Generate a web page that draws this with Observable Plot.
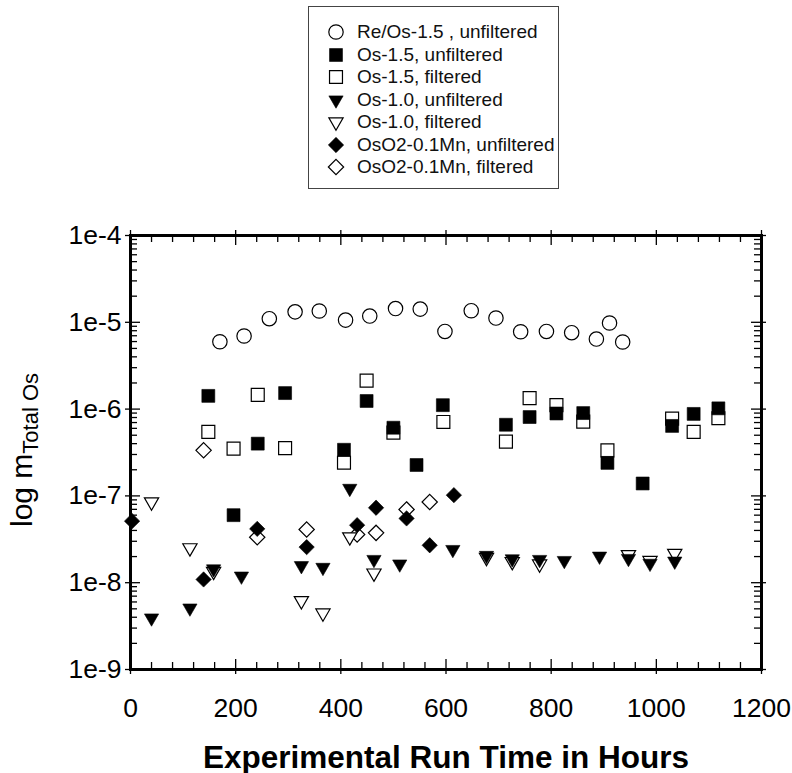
<!DOCTYPE html>
<html>
<head>
<meta charset="utf-8">
<script src="https://cdn.jsdelivr.net/npm/d3@7"></script>
<script src="https://cdn.jsdelivr.net/npm/@observablehq/plot@0.6"></script>
<style>
  html, body { margin: 0; padding: 0; background: white; }
  #wrap { position: relative; width: 792px; height: 773px; font-family: "Liberation Sans", Arial, sans-serif; }
  #legend { position: absolute; left: 308px; top: 6px; width: 251px; height: 183px; box-sizing: border-box; border: 1px solid #444; background: white; }
  .row { position: absolute; left: 0; height: 22px; }
  .row svg { position: absolute; left: 16px; top: 0; }
  .row span { position: absolute; left: 48px; white-space: nowrap; font-size: 19px; color: #111; line-height: 22px; top: 0; }
</style>
</head>
<body>
<div id="wrap"><div id="chart"></div><div id="legend"></div></div>
<script>
// ---- data (hours, total Os molality) ----
const reOs15U_h = [170, 216, 264, 313, 359, 409, 455, 504, 551, 598, 648, 695, 742, 791, 839, 886, 911, 936];
const reOs15U_v = [5.97e-6, 6.95e-6, 1.10e-5, 1.32e-5, 1.35e-5, 1.06e-5, 1.18e-5, 1.44e-5, 1.42e-5, 7.85e-6, 1.36e-5, 1.12e-5, 7.78e-6, 7.85e-6, 7.59e-6, 6.41e-6, 9.82e-6, 5.93e-6];

const os15U_h = [148, 196, 242, 294, 406, 449, 500, 544, 594, 714, 759, 810, 861, 907, 974, 1030, 1071, 1118];
const os15U_v = [1.42e-6, 6.0e-8, 4.0e-7, 1.53e-6, 3.4e-7, 1.24e-6, 6.1e-7, 2.27e-7, 1.11e-6, 6.6e-7, 8.1e-7, 8.9e-7, 9.0e-7, 2.4e-7, 1.39e-7, 6.4e-7, 8.8e-7, 1.02e-6];

const os15F_h = [148, 196, 242, 294, 406, 449, 500, 595, 714, 759, 810, 861, 907, 1030, 1071, 1118];
const os15F_v = [5.46e-7, 3.5e-7, 1.46e-6, 3.55e-7, 2.41e-7, 2.13e-6, 5.36e-7, 7.11e-7, 4.22e-7, 1.34e-6, 1.11e-6, 7.17e-7, 3.35e-7, 7.77e-7, 5.46e-7, 7.85e-7];

const os10U_h = [40, 113, 158, 211, 325, 366, 417, 463, 512, 613, 677, 726, 778, 825, 892, 947, 988, 1035];
const os10U_v = [3.92e-9, 5.1e-9, 1.44e-8, 1.19e-8, 1.57e-8, 1.5e-8, 1.22e-7, 1.85e-8, 1.64e-8, 2.41e-8, 2.06e-8, 1.88e-8, 1.85e-8, 1.8e-8, 2.02e-8, 1.9e-8, 1.67e-8, 1.77e-8];

const os10F_h = [40, 113, 158, 325, 366, 417, 463, 677, 726, 778, 947, 988, 1035];
const os10F_v = [8.5e-8, 2.52e-8, 1.35e-8, 6.2e-9, 4.47e-9, 3.37e-8, 1.29e-8, 1.95e-8, 1.75e-8, 1.64e-8, 2.1e-8, 1.8e-8, 2.17e-8];

const osO2U_h = [3, 139, 241, 335, 431, 467, 525, 569, 615];
const osO2U_v = [5.12e-8, 1.09e-8, 4.17e-8, 2.57e-8, 4.6e-8, 7.3e-8, 5.5e-8, 2.7e-8, 1.02e-7];

const osO2F_h = [139, 241, 335, 431, 467, 525, 569];
const osO2F_v = [3.35e-7, 3.34e-8, 4.1e-8, 3.59e-8, 3.75e-8, 6.98e-8, 8.5e-8];

const legendLabels = ["Re/Os-1.5 , unfiltered", "Os-1.5, unfiltered", "Os-1.5, filtered", "Os-1.0, unfiltered", "Os-1.0, filtered", "OsO2-0.1Mn, unfiltered", "OsO2-0.1Mn, filtered"];

const xTicks = [0, 200, 400, 600, 800, 1000, 1200];
const xTickLabels = ["0", "200", "400", "600", "800", "1000", "1200"];
const yTicks = [1e-9, 1e-8, 1e-7, 1e-6, 1e-5, 1e-4];
const yTickLabels = ["1e-9", "1e-8", "1e-7", "1e-6", "1e-5", "1e-4"];
const xLabel = "Experimental Run Time in Hours";
const yLabelMain = "log m";
const yLabelSub = "Total Os";

// ---- layout ----
const W = 792, H = 773, ML = 130, MR = 31, MT = 235, MB = 104;
const innerW = W - ML - MR, innerH = H - MT - MB;

const xMinor = d3.range(40, 1200, 40).filter(d => d % 200 !== 0);
const yMinor = [];
for (let k = -9; k < -4; k++) for (let m = 2; m <= 9; m++) yMinor.push(m * Math.pow(10, k));

const triDown = {
  draw(ctx, size) {
    const s = Math.sqrt(size) * 0.6824, t = s / 2, u = s * Math.sqrt(3) / 2;
    ctx.moveTo(0, s); ctx.lineTo(u, -t); ctx.lineTo(-u, -t); ctx.closePath();
  }
};

const openStyle = {fill: "white", stroke: "black", strokeWidth: 1.2};
const solidStyle = {fill: "black", stroke: "black", strokeWidth: 0.6};

const series = [
  {label: legendLabels[0], h: reOs15U_h, v: reOs15U_v, symbol: d3.symbolCircle, r: 7.2, style: openStyle, order: 3},
  {label: legendLabels[1], h: os15U_h, v: os15U_v, symbol: d3.symbolSquare, r: 7.3, style: solidStyle, order: 6},
  {label: legendLabels[2], h: os15F_h, v: os15F_v, symbol: d3.symbolSquare, r: 7.3, style: openStyle, order: 2},
  {label: legendLabels[3], h: os10U_h, v: os10U_v, symbol: triDown, r: 6.8, style: solidStyle, order: 5},
  {label: legendLabels[4], h: os10F_h, v: os10F_v, symbol: triDown, r: 6.8, style: openStyle, order: 1},
  {label: legendLabels[5], h: osO2U_h, v: osO2U_v, symbol: d3.symbolDiamond2, r: 6.9, style: solidStyle, order: 4},
  {label: legendLabels[6], h: osO2F_h, v: osO2F_v, symbol: d3.symbolDiamond2, r: 6.9, style: openStyle, order: 0}
];

const dotMarks = series.slice().sort((a, b) => a.order - b.order).map(s =>
  Plot.dot(s.h.map((h, i) => ({h, v: s.v[i]})), {x: "h", y: "v", symbol: s.symbol, r: s.r, ...s.style})
);

const tickStroke = {stroke: "black", strokeWidth: 1.3};

const chart = Plot.plot({
  width: W, height: H,
  marginLeft: ML, marginRight: MR, marginTop: MT, marginBottom: MB,
  style: {fontFamily: "'Liberation Sans', Arial, sans-serif", background: "white", color: "black"},
  x: {domain: [0, 1200]},
  y: {type: "log", domain: [1e-9, 1e-4]},
  marks: [
    // inner minor ticks
    Plot.tickX(xMinor, {x: d => d, insetTop: innerH - 7, ...tickStroke}),
    Plot.tickX(xMinor, {x: d => d, insetBottom: innerH - 7, ...tickStroke}),
    Plot.tickY(yMinor, {y: d => d, insetRight: innerW - 7, ...tickStroke}),
    Plot.tickY(yMinor, {y: d => d, insetLeft: innerW - 7, ...tickStroke}),
    // major ticks (crossing the frame)
    Plot.tickX(xTicks, {x: d => d, insetTop: innerH - 10, insetBottom: -5, ...tickStroke}),
    Plot.tickX(xTicks, {x: d => d, insetBottom: innerH - 10, insetTop: -5, ...tickStroke}),
    Plot.tickY(yTicks, {y: d => d, insetRight: innerW - 10, insetLeft: -5, ...tickStroke}),
    Plot.tickY(yTicks, {y: d => d, insetLeft: innerW - 10, insetRight: -5, ...tickStroke}),
    Plot.axisX(xTicks, {anchor: "bottom", tickSize: 0, tickPadding: 29, fontSize: 26.5, label: null,
      tickFormat: d => xTickLabels[xTicks.indexOf(d)]}),
    Plot.axisY(yTicks, {anchor: "left", tickSize: 0, tickPadding: 9, fontSize: 26.5, label: null,
      tickFormat: d => yTickLabels[yTicks.indexOf(d)]}),
    ...dotMarks,
    Plot.frame({stroke: "black", strokeWidth: 3}),
    Plot.text([xLabel], {text: d => d, frameAnchor: "bottom", lineAnchor: "bottom", dy: 98,
      fontSize: 31.5, fontWeight: "bold", fill: "black"})
  ]
});

// y-axis title with subscript
const svg = d3.select(chart);
const yl = svg.append("text")
  .attr("transform", `translate(32, ${MT + innerH / 2 - 2}) rotate(-90)`)
  .attr("text-anchor", "middle")
  .attr("fill", "black")
  .style("font-family", "'Liberation Sans', Arial, sans-serif");
yl.append("tspan").attr("font-size", 30).text(yLabelMain);
yl.append("tspan").attr("font-size", 22).attr("dy", 6).text(yLabelSub);

document.getElementById("chart").appendChild(chart);

// legend
const legend = d3.select("#legend");
series.forEach((s, i) => {
  const row = legend.append("div").attr("class", "row").style("top", (14 + i * 22.5) + "px");
  const sw = row.append("svg").attr("width", 22).attr("height", 22);
  sw.append("path")
    .attr("transform", "translate(11,11)")
    .attr("d", d3.symbol(s.symbol, s.r * s.r * Math.PI)())
    .attr("fill", s.style.fill).attr("stroke", s.style.stroke).attr("stroke-width", s.style.strokeWidth);
  row.append("span").text(s.label);
});
</script>
</body>
</html>
